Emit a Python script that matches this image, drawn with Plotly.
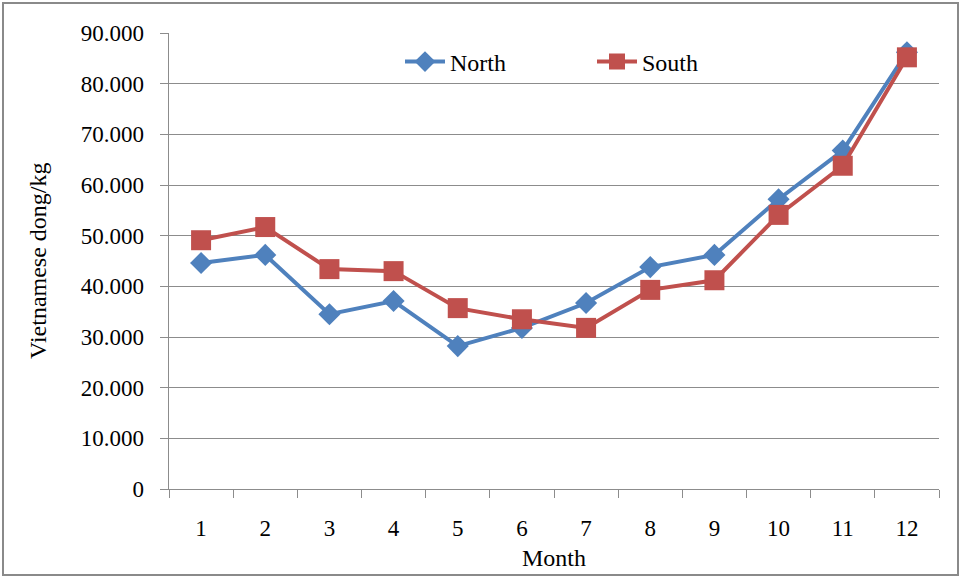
import plotly.graph_objects as go

months = list(range(1, 13))
north = [44600, 46200, 34500, 37100, 28200, 31800, 36700, 43800, 46200, 57200, 66800, 86200]
south = [49100, 51700, 43400, 43000, 35700, 33500, 31800, 39300, 41200, 54100, 63800, 85200]
y_ticks = [0, 10000, 20000, 30000, 40000, 50000, 60000, 70000, 80000, 90000]
y_labels = [f"{v:,}".replace(",", ".") + "\u00a0\u00a0" for v in y_ticks]

W, H = 963, 578
L, R, T, B = 169, 24, 33, 89
pw, ph = W - L - R, H - T - B

FAM = "Liberation Serif"
grid = "#8c8c8c"

fig = go.Figure()
fig.add_trace(go.Scatter(
    x=months, y=north, name="North", mode="lines+markers",
    line=dict(color="#4F81BD", width=4),
    marker=dict(symbol="diamond", size=17, color="#4F81BD"),
))
fig.add_trace(go.Scatter(
    x=months, y=south, name="South", mode="lines+markers",
    line=dict(color="#C0504D", width=4),
    marker=dict(symbol="square", size=20, color="#C0504D"),
))

def px(x):
    return (x - L) / pw

def py(y):
    return 1 - (y - T) / ph

fig.add_shape(type="rect", xref="paper", yref="paper",
              x0=px(3), x1=px(958), y0=py(575), y1=py(3),
              line=dict(color="#8a8a8a", width=2), fillcolor="rgba(0,0,0,0)", layer="below")

fig.add_annotation(text="Month", xref="paper", yref="paper", x=px(554), y=py(558),
                   xanchor="center", yanchor="middle", showarrow=False,
                   font=dict(family=FAM, size=24, color="black"))
fig.add_annotation(text="Vietnamese dong/kg", xref="paper", yref="paper", x=px(38), y=py(261),
                   xanchor="center", yanchor="middle", showarrow=False, textangle=-90,
                   font=dict(family=FAM, size=24, color="black"))

fig.update_layout(
    width=W, height=H,
    margin=dict(l=L, r=R, t=T, b=B),
    paper_bgcolor="white", plot_bgcolor="white",
    font=dict(family=FAM, size=23, color="black"),
    showlegend=True,
    modebar=dict(bgcolor="rgba(0,0,0,0)", color="rgba(0,0,0,0)", activecolor="rgba(0,0,0,0)"),
    legend=dict(orientation="h", x=px(400), y=py(62), xanchor="left", yanchor="middle",
                font=dict(family=FAM, size=24, color="black"), bgcolor="rgba(0,0,0,0)",
                itemwidth=40, entrywidth=137),
    xaxis=dict(range=[0.5, 12.5], tickvals=months, ticks="outside", ticklen=18,
               tickcolor="rgba(0,0,0,0)", showline=True, linecolor=grid, linewidth=1,
               showgrid=False, zeroline=False,
               minor=dict(tick0=0.5, dtick=1, ticks="outside", ticklen=8,
                          tickcolor=grid, showgrid=False),
               tickfont=dict(family=FAM, size=23, color="black")),
    yaxis=dict(range=[0, 90000], tickvals=y_ticks, ticktext=y_labels, ticks="outside",
               ticklen=8, tickcolor=grid, showline=True, linecolor=grid, linewidth=1,
               showgrid=True, gridcolor=grid, gridwidth=1, zeroline=False,
               tickfont=dict(family=FAM, size=23, color="black")),
)

post = (
    "document.body.style.margin='0';document.body.style.padding='0';"
    "var s=document.createElement('style');"
    "s.textContent='.modebar-btn--logo{visibility:hidden !important;}';"
    "document.head.appendChild(s);"
)
fig.write_html("out.html", post_script=post)
